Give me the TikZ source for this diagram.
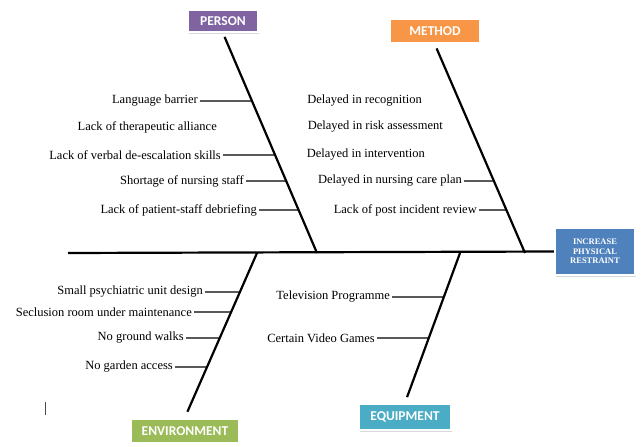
\documentclass[tikz,border=0pt]{standalone}
\usepackage{fontspec}
\setmainfont{Liberation Serif}
\newfontfamily\causefont{Liberation Serif}
\newfontfamily\boxfont{Carlito}
\usetikzlibrary{shadows}
\definecolor{personcol}{HTML}{8064A2}
\definecolor{methodcol}{HTML}{F79646}
\definecolor{envcol}{HTML}{9BBB59}
\definecolor{equipcol}{HTML}{4BACC6}
\definecolor{headcol}{HTML}{4F81BD}

\begin{document}
\begin{tikzpicture}[x=1pt,y=-1pt,
		cause/.style={anchor=east, inner sep=2pt, font=\causefont\fontsize{12.5}{14}\selectfont},
		catbox/.style={fill=#1, draw=white, line width=2.5pt, text=white, inner sep=0pt,
			font=\boxfont\bfseries\fontsize{13.5}{15}\selectfont,
			drop shadow={opacity=0.3, shadow xshift=1pt, shadow yshift=-1.5pt}},
		bone/.style={line width=2.2pt},
		twig/.style={line width=1.1pt}]
	\useasboundingbox (0,0) rectangle (643,447);

	% category boxes
	\node[catbox=personcol, minimum width=70pt, minimum height=22pt] (personbox) at (223,21) {PERSON};
	\node[catbox=methodcol, minimum width=90pt, minimum height=25pt] (methodbox) at (435,31) {METHOD};
	\node[catbox=envcol, minimum width=108pt, minimum height=25pt] (envbox) at (185,431) {ENVIRONMENT};
	\node[catbox=equipcol, minimum width=92pt, minimum height=26pt] (equipbox) at (405,417) {EQUIPMENT};
	\node[catbox=headcol, minimum width=80pt, minimum height=47pt, align=center,
		font=\causefont\bfseries\fontsize{8.5}{9.5}\selectfont] (headbox) at (595,251.5) {INCREASE\\PHYSICAL\\RESTRAINT};

	% spine and bones
	\coordinate (tail) at (68,253);
	\coordinate (pbase) at (317,253);
	\coordinate (mbase) at (525,253);
	\coordinate (ebase) at (257,253);
	\coordinate (qbase) at (460,253);
	\draw[bone] (tail) -- (headbox.west);
	\draw[bone, shorten <=4pt] (personbox.south) -- (pbase);
	\draw[bone, shorten <=4pt] (methodbox.south) -- (mbase);
	\draw[bone, shorten >=6pt] (ebase) -- (envbox.north);
	\draw[bone, shorten >=6pt] (qbase) -- (equipbox.north);

	% person causes
	\node[cause] (p1) at (200,101) {Language barrier};
	\node[cause] (p2) at (219,127) {Lack of therapeutic alliance};
	\node[cause] (p3) at (223,155) {Lack of verbal de-escalation skills};
	\node[cause] (p4) at (246,181) {Shortage of nursing staff};
	\node[cause] (p5) at (259,210) {Lack of patient-staff debriefing};
	\draw[twig] (p1.east) -- (intersection of personbox.south--pbase and p1.west--p1.east);
	\draw[twig] (p3.east) -- (intersection of personbox.south--pbase and p3.west--p3.east);
	\draw[twig] (p4.east) -- (intersection of personbox.south--pbase and p4.west--p4.east);
	\draw[twig] (p5.east) -- (intersection of personbox.south--pbase and p5.west--p5.east);

	% method causes
	\node[cause] (m1) at (424,101) {Delayed in recognition};
	\node[cause] (m2) at (445,127) {Delayed in risk assessment};
	\node[cause] (m3) at (427,155) {Delayed in intervention};
	\node[cause] (m4) at (464,181) {Delayed in nursing care plan};
	\node[cause] (m5) at (479,210) {Lack of post incident review};
	\draw[twig] (m4.east) -- (intersection of methodbox.south--mbase and m4.west--m4.east);
	\draw[twig] (m5.east) -- (intersection of methodbox.south--mbase and m5.west--m5.east);

	% environment causes
	\node[cause] (e1) at (205,292) {Small psychiatric unit design};
	\node[cause] (e2) at (194,312) {Seclusion room under maintenance};
	\node[cause] (e3) at (186,338) {No ground walks};
	\node[cause] (e4) at (175,367) {No garden access};
	\draw[twig] (e1.east) -- (intersection of ebase--envbox.north and e1.west--e1.east);
	\draw[twig] (e2.east) -- (intersection of ebase--envbox.north and e2.west--e2.east);
	\draw[twig] (e3.east) -- (intersection of ebase--envbox.north and e3.west--e3.east);
	\draw[twig] (e4.east) -- (intersection of ebase--envbox.north and e4.west--e4.east);

	% equipment causes
	\node[cause] (q1) at (392,297) {Television Programme};
	\node[cause] (q2) at (377,338) {Certain Video Games};
	\draw[twig] (q1.east) -- (intersection of qbase--equipbox.north and q1.west--q1.east);
	\draw[twig] (q2.east) -- (intersection of qbase--equipbox.north and q2.west--q2.east);

	% stray cursor mark
	\draw[line width=1pt, black!70] (45,402) -- (45,415);
\end{tikzpicture}
\end{document}
